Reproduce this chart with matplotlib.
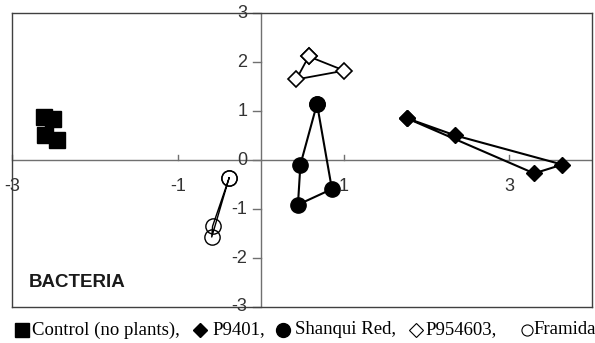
import matplotlib
matplotlib.use("Agg")
import matplotlib.pyplot as plt
from matplotlib.lines import Line2D

# Ordination scores per treatment (axis 1, axis 2)
control_x = [-2.61, -2.50, -2.60, -2.46]
control_y = [0.88, 0.85, 0.51, 0.42]

p9401_x = [1.76, 2.34, 3.64, 3.30]
p9401_y = [0.86, 0.51, -0.09, -0.27]

shanqui_x = [0.68, 0.48, 0.45, 0.86]
shanqui_y = [1.15, -0.09, -0.91, -0.59]

p954603_x = [0.58, 1.01, 0.43]
p954603_y = [2.12, 1.83, 1.65]

framida_x = [-0.38, -0.58, -0.59]
framida_y = [-0.36, -1.35, -1.57]

x_ticks = [-3, -1, 1, 3]
y_ticks = [-3, -2, -1, 0, 1, 2, 3]

legend_labels = ["Control (no plants),", "P9401,", "Shanqui Red,", "P954603,", "Framida"]

W, H = 595, 343
fig = plt.figure(figsize=(W / 100, H / 100), dpi=100)
ax = fig.add_axes([0.0202, 0.105, 0.975, 0.856])
ax.set_xlim(-3, 4)
ax.set_ylim(-3, 3)

for s in ax.spines.values():
    s.set_color("#404040")
    s.set_linewidth(1.0)

# Central axes through the origin
ax.axhline(0, color="#707070", lw=1.0, zorder=1)
ax.axvline(0, color="#707070", lw=1.0, zorder=1)

def closed(xs, ys):
    return list(xs) + [xs[0]], list(ys) + [ys[0]]

# Control: unconnected squares
ax.plot(control_x, control_y, ls="none", marker="s", ms=11,
        mfc="black", mec="black", zorder=3)

hx, hy = closed(p9401_x, p9401_y)
ax.plot(hx, hy, color="black", lw=1.5, marker="D", ms=8,
        mfc="black", mec="black", zorder=3)

hx, hy = closed(shanqui_x, shanqui_y)
ax.plot(hx, hy, color="black", lw=1.5, marker="o", ms=11,
        mfc="black", mec="black", zorder=3)

hx, hy = closed(p954603_x, p954603_y)
ax.plot(hx, hy, color="black", lw=1.3, marker="D", ms=8,
        mfc="white", mec="black", mew=1.2, zorder=3)

hx, hy = closed(framida_x, framida_y)
ax.plot(hx, hy, color="black", lw=1.0, marker="o", ms=11,
        mfc="none", mec="black", mew=1.0, zorder=3)

ax.set_xticks([])
ax.set_yticks([])

tick_font = dict(family="Liberation Sans", size=13, color="#333333")

# Y tick marks and labels along the vertical axis
for v in y_ticks:
    ax.plot([-0.09, 0], [v, v], color="#707070", lw=1.0, clip_on=False, zorder=1)
    ax.text(-0.16, v, str(v), ha="right", va="center", **tick_font)

# X tick marks and labels below the horizontal axis
for v in x_ticks:
    ax.plot([v, v], [0, 0.1], color="#707070", lw=1.0, clip_on=False, zorder=1)
    ax.text(v, -0.54, str(v), ha="center", va="center", **tick_font)

ax.text(-2.8, -2.5, "BACTERIA", ha="left", va="center",
        family="Liberation Sans", weight="bold", size=13.5, color="#1a1a1a")

# Key line under the plot: symbol followed by label, placed in pixels
def px(x, y):
    return x / W, 1 - y / H

key_y = 330
key_symbols = [
    (21.5, dict(marker="s", ms=9.5, mfc="black", mec="black")),
    (200, dict(marker="D", ms=7.5, mfc="black", mec="black")),
    (282.5, dict(marker="o", ms=10, mfc="black", mec="black")),
    (415.5, dict(marker="D", ms=7.2, mfc="white", mec="black", mew=0.8)),
    (527, dict(marker="o", ms=8, mfc="white", mec="black", mew=0.8)),
]
key_text_x = [32, 212, 295, 425, 533]

for (sx, style), tx, label in zip(key_symbols, key_text_x, legend_labels):
    x0, y0 = px(sx, key_y)
    fig.add_artist(Line2D([x0], [y0], transform=fig.transFigure, ls="none", **style))
    x1, y1 = px(tx, key_y)
    fig.text(x1, y1, label, ha="left", va="center", size=13.5,
             family="Liberation Serif", color="black")

fig.savefig("out.png", dpi=100)
